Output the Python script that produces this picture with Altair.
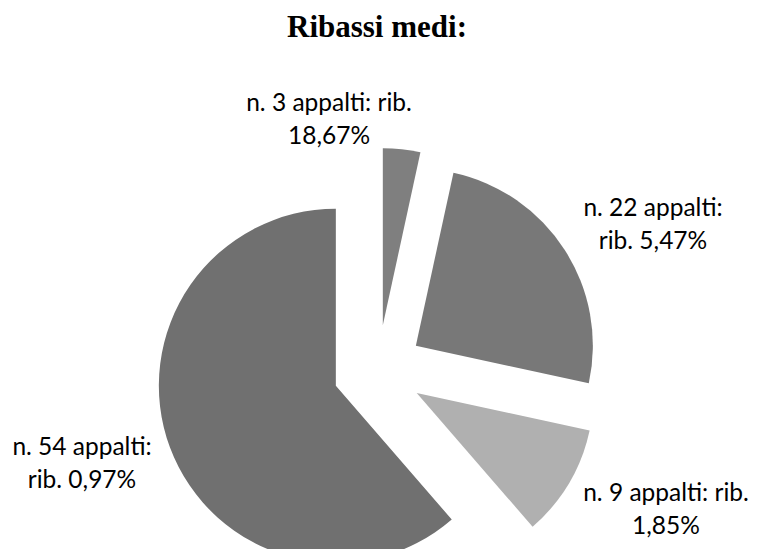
import altair as alt
import pandas as pd

# ---- data ----
title_text = "Ribassi medi:"
categories = ["n. 3 appalti", "n. 22 appalti", "n. 9 appalti", "n. 54 appalti"]
n_appalti = [3, 22, 9, 54]
ribasso = ["18,67%", "5,47%", "1,85%", "0,97%"]
label_text = [
    "n. 3 appalti: rib.\n18,67%",
    "n. 22 appalti:\nrib. 5,47%",
    "n. 9 appalti: rib.\n1,85%",
    "n. 54 appalti:\nrib. 0,97%",
]
slice_colors = ["#7f7f7f", "#787878", "#b0b0b0", "#707070"]

# ---- layout (pixels, chart coordinates) ----
W, H = 742, 541
CX, CY = 370, 362
R = 177
EXPLODE = 45
label_x = [321, 645, 658, 74]
label_y = [103, 208, 493, 447]
TITLE_X, TITLE_Y = 369, 29

df = pd.DataFrame({
    "order": list(range(len(categories))),
    "cat": categories,
    "n": n_appalti,
    "text": label_text,
    "lx": label_x,
    "ly": label_y,
})

base = (
    alt.Chart(df)
    .transform_window(cum="sum(n)", sort=[alt.SortField("order")], frame=[None, 0])
    .transform_joinaggregate(total="sum(n)")
    .transform_calculate(
        t0="2*PI*(datum.cum-datum.n)/datum.total",
        t1="2*PI*datum.cum/datum.total",
    )
    .transform_calculate(mid="(datum.t0+datum.t1)/2")
    .transform_calculate(
        ex=f"{CX}+{EXPLODE}*sin(datum.mid)",
        ey=f"{CY}-{EXPLODE}*cos(datum.mid)",
    )
)

arcs = base.mark_arc(radius=R).encode(
    x=alt.X("ex:Q", scale=None),
    y=alt.Y("ey:Q", scale=None),
    theta=alt.Theta("t0:Q", scale=None),
    theta2="t1:Q",
    color=alt.Color("cat:N", scale=alt.Scale(domain=categories, range=slice_colors), legend=None),
)

labels = alt.Chart(df).mark_text(
    font="Lato", fontSize=24.5, lineBreak="\n", lineHeight=32.5,
    align="center", baseline="alphabetic", color="black",
).encode(
    x=alt.X("lx:Q", scale=None),
    y=alt.Y("ly:Q", scale=None),
    text="text:N",
)

title = alt.Chart(pd.DataFrame({"t": [title_text]})).mark_text(
    font="Liberation Serif", fontSize=31, fontWeight="bold",
    align="center", baseline="alphabetic", color="black",
).encode(
    x=alt.value(TITLE_X),
    y=alt.value(TITLE_Y),
    text="t:N",
)

chart = (
    alt.layer(arcs, labels, title)
    .properties(
        width=W, height=H,
        autosize=alt.AutoSizeParams(type="fit", contains="padding"),
        padding=0,
    )
    .configure_view(stroke=None)
)

chart.save("out.html", embed_options={"renderer": "svg", "actions": False})
